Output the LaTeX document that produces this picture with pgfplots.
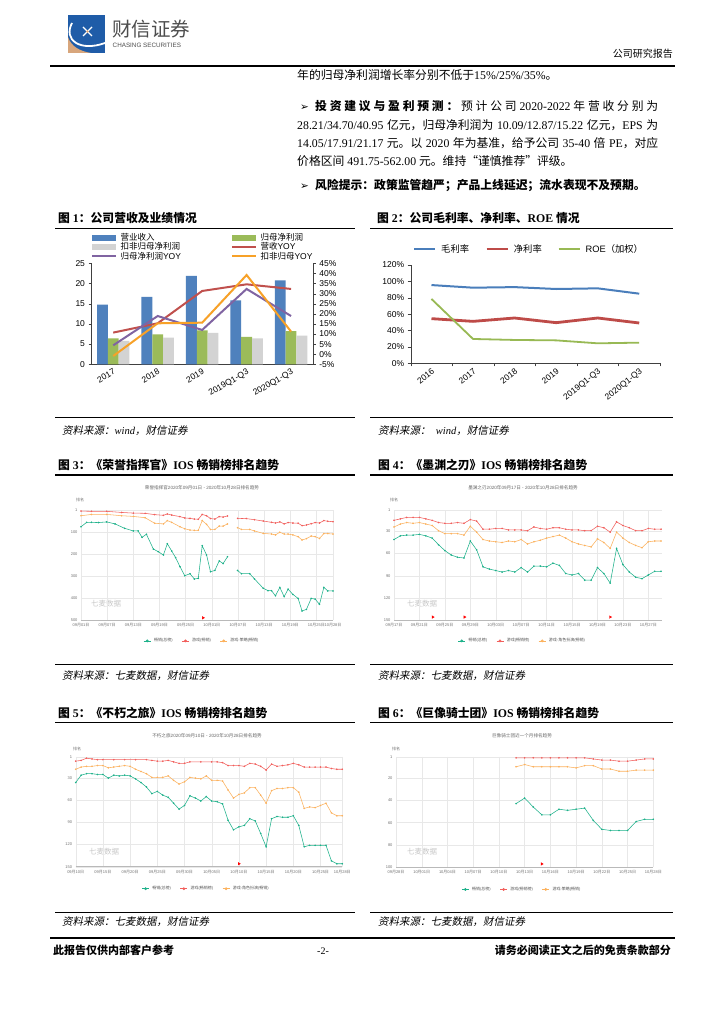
\documentclass[border=0pt]{standalone}
\usepackage{pgfplots}
\pgfplotsset{compat=1.18}
\usepackage{fontspec}
\setmainfont{Liberation Serif}
\setsansfont{Liberation Sans}
\newfontfamily\cjkfam{Noto Sans CJK SC}
\newfontfamily\cjkit{Noto Sans CJK SC}[FakeSlant=0.2]
\newfontfamily\dejavu{DejaVu Sans}

% CJK characters get the CJK face, everything else the Latin one
\XeTeXinterchartokenstate=1
\newXeTeXintercharclass\CJKcls
\makeatletter
\def\cjkrange#1#2{\count@=#1\relax
  \loop\XeTeXcharclass\count@=\CJKcls
  \ifnum\count@<#2\relax\advance\count@\@ne\repeat}
\makeatother
\cjkrange{"3000}{"303F}
\cjkrange{"4E00}{"9FFF}
\cjkrange{"FF00}{"FFEF}
\cjkrange{"201C}{"201D}
\def\cjksw{\cjkfam}
\def\backfam{\rmfamily}
\XeTeXinterchartoks 0 \CJKcls = {\cjksw}
\XeTeXinterchartoks 4095 \CJKcls = {\cjksw}
\XeTeXinterchartoks \CJKcls 0 = {\backfam}
\XeTeXinterchartoks \CJKcls 4095 = {\backfam}
\newcommand\sfcn{\def\backfam{\sffamily}\sffamily}
\newcommand\tinyq{\sfcn\fontsize{4}{4.5}\selectfont}
\newcommand\srcfont{\def\cjksw{\cjkit}\itshape\fontsize{10.5}{12}\selectfont}

\definecolor{xblue}{HTML}{4F81BD}
\definecolor{xgreen}{HTML}{9BBB59}
\definecolor{xgray}{HTML}{D3D3D3}
\definecolor{xred}{HTML}{C0504D}
\definecolor{xpurple}{HTML}{8064A2}
\definecolor{xorange}{HTML}{F7A128}
\definecolor{lblue}{HTML}{4A7EBB}
\definecolor{lred}{HTML}{BE4B48}
\definecolor{lgreen}{HTML}{98B954}
\definecolor{qgreen}{HTML}{1DB18A}
\definecolor{qred}{HTML}{F25F5C}
\definecolor{qorange}{HTML}{FCB25E}
\definecolor{logoblue}{HTML}{1F5CA8}
\definecolor{logotan}{HTML}{D8A67C}
\definecolor{txtgray}{HTML}{4D4D4D}

\pgfplotsset{
  wbar legend/.style={legend image code/.code={\fill[##1] (0pt,-3pt) rectangle (24pt,3pt);}},
  wline legend/.style={legend image code/.code={\draw[##1] (0pt,0pt) -- (24pt,0pt);}},
  sline legend/.style={legend image code/.code={\draw[##1] (0pt,0pt) -- (21pt,0pt);}},
  qline legend/.style={legend image code/.code={\draw[mark repeat=2,mark phase=2,##1,mark size=1.1pt] plot coordinates {(0pt,0pt) (3.5pt,0pt) (7pt,0pt)};}},
  excel/.style={scale only axis, anchor=south west,
    axis line style={-,black!75}, tick align=outside, major tick length=2.5pt,
    tick label style={font=\sfcn\fontsize{8.5}{9}\selectfont},
    /pgf/number format/assume math mode=true},
  qm/.style={scale only axis, anchor=south west, y dir=reverse, clip=false,
    axis x line*=bottom, axis y line*=left,
    x axis line style={-,gray!55,line width=0.5pt}, y axis line style={draw=none},
    xmajorgrids, ymajorgrids, major grid style={gray!18,line width=0.4pt},
    tick style={draw=none},
    tick label style={font=\tinyq, text=black!55},
    /pgf/number format/assume math mode=true,
    unbounded coords=jump, qline legend,
    legend style={draw=none, fill=none, font=\tinyq, text=black!65, legend columns=3, anchor=center,
      /tikz/every even column/.append style={column sep=7pt},
      /tikz/every odd column/.append style={column sep=1pt}}},
  qg/.style={color=qgreen, line width=0.55pt, mark=*, mark size=0.5pt},
  qr/.style={color=qred, line width=0.55pt, mark=*, mark size=0.5pt},
  qo/.style={color=qorange, line width=0.55pt, mark=*, mark size=0.5pt},
  qflag/.style={only marks, mark=triangle*, color=red, mark size=1.4pt, mark options={rotate=-90}, forget plot},
}

\tikzset{
  body/.style={anchor=base west, inner sep=0, font=\fontsize{11.8}{13}\selectfont},
  ftitle/.style={anchor=base west, inner sep=0, font=\bfseries\fontsize{11.8}{13}\selectfont},
  src/.style={anchor=base west, inner sep=0, font=\srcfont},
  ctitle/.style={inner sep=0, text=black!60, font=\sfcn\fontsize{4.6}{5}\selectfont},
  wmark/.style={inner sep=0, text=black!22, font=\sfcn\fontsize{7.5}{8}\selectfont},
  rk/.style={inner sep=0, text=black!55, font=\tinyq},
  bull/.style={anchor=base west, inner sep=0, font=\dejavu\fontsize{10.5}{11}\selectfont},
}

\begin{document}
\begin{tikzpicture}
\begin{scope}[x=1pt,y=-1pt]
\fill[white] (0,0) rectangle (724,1024);
\path[use as bounding box] (0,0) rectangle (724,1024);

% header
\fill[logoblue] (68,15) rectangle (105,53);
\fill[logotan] (68,37) .. controls (71,46) and (79,51) .. (91,53) -- (68,53) -- cycle;
\draw[white, line width=1.8pt] (72,23) .. controls (63,40) and (80,52) .. (105,43);
\draw[white, line width=1.1pt] (83,27) -- (92,36) (92,27) -- (83,36);
\fill[logotan] (87.5,31.5) circle (1.3pt);
\node[anchor=west, inner sep=0, text=txtgray, font=\sfcn\fontsize{19.5}{20}\selectfont] at (112,29.5) {财信证券};
\node[anchor=west, inner sep=0, text=txtgray, font=\sfcn\fontsize{6.3}{7}\selectfont] at (112.5,45) {CHASING SECURITIES};
\node[anchor=base east, inner sep=0, font=\fontsize{10}{11}\selectfont] at (673,57.5) {公司研究报告};
\draw[line width=1.3pt] (50,66) -- (675,66);

% body text
\node[body] at (297,79.5) {年的归母净利润增长率分别不低于15\%/25\%/35\%。};
\node[bull] at (300,111) {➢};
\node[body] at (315,111) {\makebox[343pt][s]{\bfseries 投 资 建 议 与 盈 利 预 测 ： \mdseries 预 计 公 司 2020-2022 年 营 收 分 别 为}};
\node[body] at (297,129.5) {\makebox[361pt][s]{28.21/34.70/40.95 亿元，归母净利润为 10.09/12.87/15.22 亿元，EPS 为}};
\node[body] at (297,148) {\makebox[361pt][s]{14.05/17.91/21.17 元。以 2020 年为基准，给予公司 35-40 倍 PE，对应}};
\node[body] at (297,166) {价格区间 491.75-562.00 元。维持“谨慎推荐”评级。};
\node[bull] at (300,189.5) {➢};
\node[ftitle] at (315,189.5) {风险提示：政策监管趋严；产品上线延迟；流水表现不及预期。};

% figure frames
\node[ftitle] at (58,222.5) {图 1：公司营收及业绩情况};
\node[ftitle] at (377,222.5) {图 2：公司毛利率、净利率、ROE 情况};
\draw[line width=1.2pt] (55,228.5) -- (355,228.5) (370,228.5) -- (673,228.5);
\draw[line width=0.8pt] (55,417) -- (355,417) (370,417) -- (673,417);
\node[src] at (62,434) {资料来源：wind，财信证券};
\node[src] at (378,434) {资料来源：\ \ wind，财信证券};

\node[ftitle] at (58,469.5) {图 3：《荣誉指挥官》IOS 畅销榜排名趋势};
\node[ftitle] at (378,469.5) {图 4：《墨渊之刃》IOS 畅销榜排名趋势};
\draw[line width=1.2pt] (55,475) -- (355,475) (370,475) -- (673,475);
\draw[line width=0.8pt] (55,664) -- (355,664) (370,664) -- (673,664);
\node[src] at (62,679) {资料来源：七麦数据，财信证券};
\node[src] at (378,679) {资料来源：七麦数据，财信证券};

\node[ftitle] at (58,717.5) {图 5：《不朽之旅》IOS 畅销榜排名趋势};
\node[ftitle] at (378,717.5) {图 6：《巨像骑士团》IOS 畅销榜排名趋势};
\draw[line width=1.2pt] (55,722.3) -- (355,722.3) (370,722.3) -- (673,722.3);
\draw[line width=0.8pt] (55,912) -- (355,912) (370,912) -- (673,912);
\node[src] at (62,925) {资料来源：七麦数据，财信证券};
\node[src] at (378,925) {资料来源：七麦数据，财信证券};

% screenshot captions
\node[ctitle] at (202,488) {荣誉指挥官2020年09月01日 - 2020年10月28日排名趋势};
\node[ctitle] at (523,488) {墨渊之刃2020年09月17日 - 2020年10月28日排名趋势};
\node[ctitle] at (207,736) {不朽之旅2020年09月10日 - 2020年10月28日排名趋势};
\node[ctitle] at (522,736) {巨像骑士团近一个月排名趋势};
\node[rk] at (80,500) {排名};
\node[rk] at (394,500) {排名};
\node[rk] at (77,749) {排名};
\node[rk] at (396,749) {排名};
\node[wmark] at (106,604) {七麦数据};
\node[wmark] at (422,604) {七麦数据};
\node[wmark] at (104,852) {七麦数据};
\node[wmark] at (422,852) {七麦数据};

% footer
\draw[line width=1.3pt] (50,938) -- (675,938);
\node[anchor=base west, inner sep=0, font=\bfseries\fontsize{11}{12}\selectfont] at (53,954.5) {此报告仅供内部客户参考};
\node[anchor=base, inner sep=0, font=\fontsize{10}{12}\selectfont] at (323,954.5) {-2-};
\node[anchor=base east, inner sep=0, font=\bfseries\fontsize{11}{12}\selectfont] at (671,954.5) {请务必阅读正文之后的免责条款部分};
\end{scope}

% ---------- figure 1: bars (left axis)
\begin{axis}[excel, at={(91pt,-364.3pt)}, width=222.3pt, height=101pt,
  xmin=-0.5, xmax=4.5, ymin=0, ymax=25,
  ybar=0pt, bar width=10.8pt,
  xtick={0,1,2,3,4}, xticklabels={2017,2018,2019,2019Q1-Q3,2020Q1-Q3},
  ytick={0,5,10,15,20,25},
  axis x line*=bottom, axis y line*=left,
  xtick style={draw=none}, ytick style={black!75},
  x tick label style={rotate=30, anchor=north east, inner sep=1pt}]
\addplot[draw=none, fill=xblue] coordinates {(0,14.8) (1,16.7) (2,21.9) (3,15.8) (4,20.8)};
\addplot[draw=none, fill=xgreen] coordinates {(0,6.4) (1,7.4) (2,8.4) (3,6.8) (4,8.2)};
\addplot[draw=none, fill=xgray] coordinates {(0,5.8) (1,6.6) (2,7.8) (3,6.4) (4,7.1)};
\end{axis}
% ---------- figure 1: growth rates (right axis)
\begin{axis}[excel, at={(91pt,-364.3pt)}, width=222.3pt, height=101pt,
  xmin=-0.5, xmax=4.5, ymin=-5, ymax=45,
  ytick={-5,0,5,10,15,20,25,30,35,40,45}, yticklabel={\pgfmathprintnumber{\tick}\%},
  axis y line*=right, axis x line=none, ytick style={black!75},
  wline legend, legend cell align=left,
  legend style={at={(0,1.30)}, anchor=north west, draw=none, fill=none, inner sep=0pt,
    font=\sfcn\fontsize{8.5}{9}\selectfont, legend columns=2, row sep=0pt,
    nodes={inner sep=0.3pt},
    /tikz/every odd column/.append style={column sep=3pt},
    /tikz/every even column/.append style={column sep=50pt}}]
\addlegendimage{wbar legend, fill=xblue, draw=none}
\addlegendimage{wbar legend, fill=xgreen, draw=none}
\addlegendimage{wbar legend, fill=xgray, draw=none}
\addplot[xred, line width=2pt] coordinates {(0,10.7) (1,15.3) (2,31.3) (3,34.6) (4,32.3)};
\addplot[xpurple, line width=2pt] coordinates {(0,4.4) (1,18.9) (2,12.0) (3,32.3) (4,18.9)};
\addplot[xorange, line width=2pt] coordinates {(0,-0.9) (1,15.3) (2,15.6) (3,39.2) (4,11.2)};
\legend{营业收入,归母净利润,扣非归母净利润,营收YOY,归母净利润YOY,扣非归母YOY}
\end{axis}

% ---------- figure 2
\begin{axis}[excel, at={(410.7pt,-363.3pt)}, width=249.3pt, height=98.3pt,
  xmin=-0.5, xmax=5.5, ymin=0, ymax=120,
  ytick={0,20,40,60,80,100,120}, yticklabel={\pgfmathprintnumber{\tick}\%},
  xtick={0,1,2,3,4,5},
  xticklabels={2016,2017,2018,2019,2019Q1-Q3,2020Q1-Q3},
  minor xtick={-0.5,0.5,1.5,2.5,3.5,4.5,5.5},
  major x tick style={draw=none}, minor tick length=3pt,
  x tick label style={rotate=38, anchor=north east, inner sep=1pt},
  axis x line*=bottom, axis y line*=left, tick style={black!75}, major tick length=3pt,
  sline legend,
  legend style={at={(0.475,1.163)}, anchor=center, draw=none, fill=none,
    font=\sfcn\fontsize{9.3}{10}\selectfont, legend columns=3,
    /tikz/every odd column/.append style={column sep=3pt},
    /tikz/every even column/.append style={column sep=14pt}}]
\addplot[lblue, line width=2pt] coordinates {(0,95.5) (1,92.3) (2,93.0) (3,90.7) (4,91.5) (5,85.0)};
\addplot[lred, line width=2.8pt] coordinates {(0,54.5) (1,51.2) (2,55.3) (3,49.6) (4,55.3) (5,49.2)};
\addplot[lgreen, line width=1.8pt] coordinates {(0,78.5) (1,29.7) (2,28.5) (3,28.0) (4,24.4) (5,25.2)};
\legend{毛利率,净利率,ROE（加权）}
\end{axis}

% ---------- figure 3
\begin{axis}[qm, at={(81pt,-620pt)}, width=252pt, height=110pt,
  xmin=0, xmax=57.8, ymin=1, ymax=500, ytick={1,100,200,300,400,500},
  xtick={0,6,12,18,24,30,36,42,48,54,57.8},
  xticklabels={09月01日,09月07日,09月13日,09月19日,09月25日,10月01日,10月07日,10月13日,10月19日,10月25日,10月28日},
  legend style={at={(0.48,-0.19)}}]
\addplot[qg] coordinates {(0,77) (1.3,57) (2.4,57) (4,58) (5.9,55) (7.8,64) (10,84) (12,96) (13.1,96) (14,125) (15,111) (16.6,178) (17.7,190) (18.9,205) (19.8,154) (20.8,187) (21.7,217) (22.7,258) (23.8,299) (25,290) (26,314) (26.9,311) (27.8,163) (28.8,205) (29.7,281) (30.7,275) (31.7,232) (32.6,244) (33.6,213) (34.7,nan) (35.9,275) (36.8,290) (38.7,290) (39.8,314) (41.8,356) (42.9,367) (43.7,367) (44.6,390) (45.6,352) (46.6,394) (47.5,360) (48.6,384) (49.8,402) (50.7,459) (51.7,452) (52.8,402) (53.7,405) (54.7,429) (55.7,352) (56.6,368) (57.8,368)};
\addplot[qr] coordinates {(0,6) (2.4,7) (5.9,7) (9.3,12) (12,15) (14.7,16) (16.9,22) (18.9,25) (19.8,19) (20.8,24) (22.7,31) (23.8,37) (25,39) (26,42) (26.9,43) (27.8,21) (28.8,27) (29.7,40) (30.7,42) (31.7,31) (32.6,33) (33.6,28) (34.7,nan) (35.9,39) (37.9,40) (39.8,45) (41.8,51) (43.7,57) (44.6,60) (45.6,55) (46.6,64) (47.5,58) (48.6,60) (49.8,61) (50.7,72) (51.7,69) (52.8,63) (53.7,58) (54.7,60) (55.7,49) (56.6,52) (57.8,54)};
\addplot[qo] coordinates {(0,27) (2.4,21) (5.9,21) (9.3,27) (12,30) (14.7,36) (16.9,61) (18.9,64) (19.8,49) (20.8,57) (22.7,77) (23.8,86) (25,92) (26,93) (26.9,93) (27.8,49) (28.8,66) (29.7,89) (30.7,89) (31.7,74) (32.6,74) (33.6,64) (34.7,nan) (35.9,81) (36.8,89) (38.7,89) (39.8,96) (41.8,107) (43.7,110) (44.6,114) (45.6,102) (46.6,110) (47.5,110) (48.6,114) (49.8,122) (50.7,137) (51.7,131) (52.8,119) (53.7,122) (54.7,130) (55.7,108) (56.6,108) (57.8,110)};
\addplot[qflag] coordinates {(28,490)};
\legend{畅销(总榜),游戏(畅销),游戏-策略(畅销)}
\end{axis}

% ---------- figure 4
\begin{axis}[qm, at={(394pt,-620pt)}, width=267.7pt, height=110pt,
  xmin=0, xmax=42.1, ymin=1, ymax=150, ytick={1,30,60,90,120,150},
  xtick={0,4,8,12,16,20,24,28,32,36,40},
  xticklabels={09月17日,09月21日,09月25日,09月29日,10月03日,10月07日,10月11日,10月15日,10月19日,10月23日,10月27日},
  legend style={at={(0.48,-0.19)}}]
\addplot[qg] coordinates {(0,41) (1,36) (2,35) (3,35) (4,34) (5,36) (6,39) (7,48) (8,56) (9,62) (10,65) (11,66) (12,43) (13,55) (14,78) (15,81) (16,83) (17,85) (18,83) (19,85) (20,79) (21,85) (22,77) (23,77) (24,78) (25,73) (26,76) (27,87) (28,89) (29,87) (30,96) (31,96) (32,79) (33,87) (34,100) (35,53) (36,75) (37,85) (38,92) (39,94) (40,89) (41,84) (42,84)};
\addplot[qr] coordinates {(0,15) (1,13) (2,11) (3,11) (4,11) (5,13) (6,15) (7,18) (8,19) (9,19) (10,18) (11,19) (12,14) (13,16) (14,27) (15,27) (16,26) (17,26) (18,28) (19,28) (20,28) (21,29) (22,24) (23,26) (24,27) (25,25) (26,25) (27,27) (28,28) (29,28) (30,29) (31,29) (32,23) (33,25) (34,31) (35,17) (36,22) (37,25) (38,29) (39,29) (40,26) (41,27) (42,27)};
\addplot[qo] coordinates {(0,24) (1,20) (2,18) (3,19) (4,18) (5,20) (6,22) (7,29) (8,33) (9,33) (10,33) (11,35) (12,23) (13,31) (14,41) (15,43) (16,44) (17,45) (18,43) (19,44) (20,41) (21,47) (22,44) (23,42) (24,39) (25,37) (26,35) (27,39) (28,44) (29,47) (30,49) (31,51) (32,40) (33,45) (34,53) (35,31) (36,39) (37,45) (38,49) (39,52) (40,44) (41,43) (42,43)};
\addplot[qflag] coordinates {(6.1,146) (11.1,146) (34,146)};
\legend{畅销(总榜),游戏(畅销榜),游戏-角色扮演(畅销)}
\end{axis}

% ---------- figure 5
\begin{axis}[qm, at={(75.7pt,-866.7pt)}, width=266.6pt, height=110pt,
  xmin=0, xmax=49, ymin=1, ymax=150, ytick={1,30,60,90,120,150},
  xtick={0,5,10,15,20,25,30,35,40,45,49},
  xticklabels={09月10日,09月15日,09月20日,09月25日,09月30日,10月05日,10月10日,10月15日,10月20日,10月25日,10月28日},
  legend style={at={(0.49,-0.2)}}]
\addplot[qg] coordinates {(0,36) (1,26) (2,24) (3,24) (4,25) (5,25) (6,30) (7,26) (8,27) (9,26) (10,27) (11,31) (12,36) (13,42) (14,51) (15,48) (16,53) (17,56) (18,64) (19,72) (20,67) (21,54) (22,57) (23,61) (24,55) (25,61) (26,62) (27,65) (28,87) (29,100) (30,96) (31,94) (32,85) (33,88) (34,105) (35,123) (36,85) (37,82) (38,83) (39,83) (40,81) (41,94) (42,123) (43,121) (44,121) (45,121) (46,121) (47,142) (48,146) (49,146)};
\addplot[qr] coordinates {(0,7) (1,6) (2,3) (3,4) (4,5) (5,5) (7,5) (9,5) (11,5) (13,5) (14,6) (15,7) (16,7) (17,6) (18,8) (19,10) (20,10) (21,8) (23,8) (25,8) (26,8) (27,9) (28,13) (29,13) (30,13) (31,14) (32,10) (33,11) (34,14) (35,19) (36,11) (37,14) (38,13) (39,12) (40,10) (41,12) (42,15) (43,15) (44,15) (45,15) (46,15) (47,17) (48,18) (49,18)};
\addplot[qo] coordinates {(0,18) (1,15) (2,14) (3,14) (4,13) (5,13) (6,16) (7,15) (8,14) (9,13) (10,14) (11,18) (12,21) (13,24) (14,29) (15,29) (16,29) (17,27) (18,33) (19,38) (20,35) (21,29) (22,30) (23,31) (24,27) (25,33) (26,33) (27,34) (28,46) (29,57) (30,52) (31,50) (32,43) (33,43) (34,53) (35,64) (36,47) (37,44) (38,44) (39,43) (40,43) (41,49) (42,71) (43,69) (44,70) (45,67) (46,64) (47,77) (48,81) (49,81)};
\addplot[qflag] coordinates {(30,146)};
\legend{畅销(总榜),游戏(畅销榜),游戏-角色扮演(畅销)}
\end{axis}

% ---------- figure 6
\begin{axis}[qm, at={(396pt,-867.3pt)}, width=257.3pt, height=110.6pt,
  xmin=0, xmax=30, ymin=1, ymax=100, ytick={1,20,40,60,80,100},
  xtick={0,3,6,9,12,15,18,21,24,27,30},
  xticklabels={09月28日,10月01日,10月04日,10月07日,10月10日,10月13日,10月16日,10月19日,10月22日,10月25日,10月28日},
  legend style={at={(0.49,-0.2)}}]
\addplot[qg] coordinates {(14,43) (15,38) (16,46) (17,53) (18,53) (19,48) (20,49) (21,48) (22,47) (23,58) (24,66) (25,67) (26,67) (27,67) (28,59) (29,57) (30,57)};
\addplot[qr] coordinates {(14,2) (15,2) (16,2) (17,2) (18,2) (19,2) (20,2) (21,2) (22,2) (23,3) (24,4) (25,4) (26,5) (27,5) (28,4) (29,3) (30,3)};
\addplot[qo] coordinates {(14,10) (15,8) (16,10) (17,10) (18,10) (19,10) (20,10) (21,11) (22,9) (23,9) (24,12) (25,12) (26,14) (27,14) (28,13) (29,13) (30,13)};
\addplot[qflag] coordinates {(17,97)};
\legend{畅销(总榜),游戏(畅销榜),游戏-策略(畅销)}
\end{axis}
\end{tikzpicture}
\end{document}
